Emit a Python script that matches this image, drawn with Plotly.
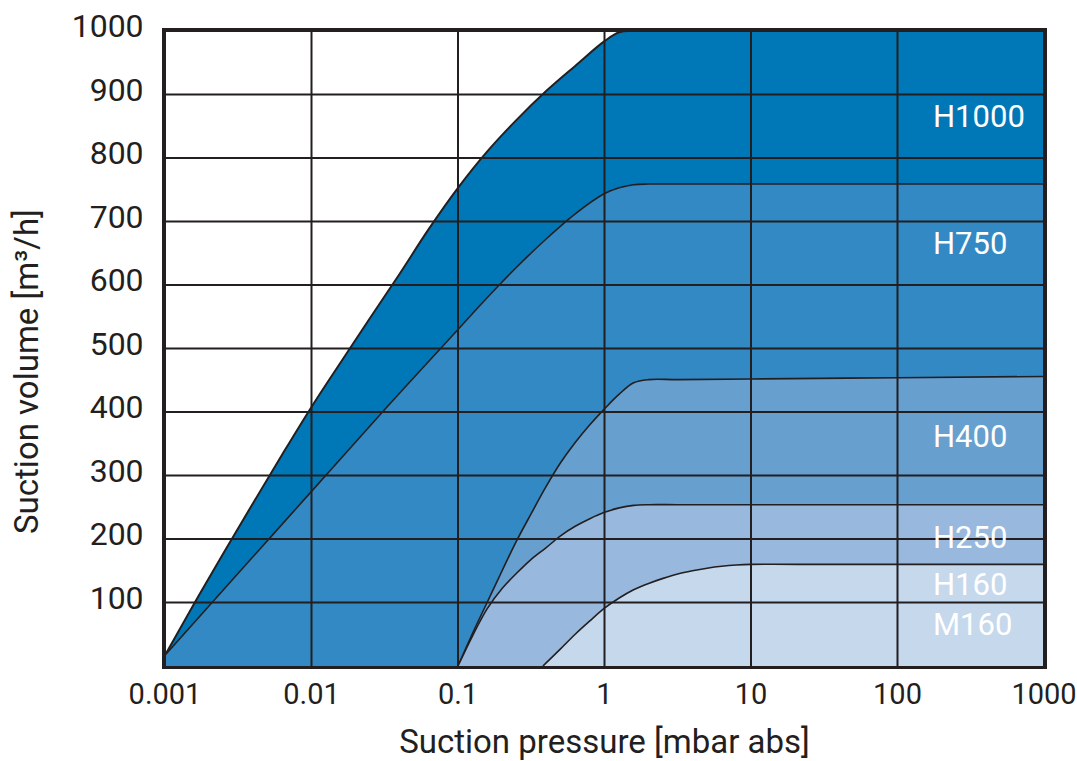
import plotly.graph_objects as go
import math

# ---- data ----
x_ticks = [0.001, 0.01, 0.1, 1, 10, 100, 1000]
x_tick_text = ["0.001", "0.01", "0.1", "1", "10", "100", "1000"]
y_ticks = [100, 200, 300, 400, 500, 600, 700, 800, 900, 1000]

# pressure [mbar abs] / suction volume [m3/h]
h1000_x = [0.001, 0.00158, 0.00251, 0.00398, 0.00631, 0.01, 0.0158, 0.0251, 0.0398, 0.0631,
           0.1, 0.158, 0.251, 0.398, 0.631, 1.0, 1.26, 1.58, 3.16, 10, 100, 1000]
h1000_y = [17, 98, 178, 256, 333, 408, 478, 548, 617, 688,
           753, 810, 860, 905, 945, 984, 998, 1000, 1000, 1000, 1000, 1000]

h750_x = [0.001, 0.00316, 0.01, 0.0316, 0.1, 0.158, 0.251, 0.398, 0.631, 1.0, 1.26, 1.58, 2.0,
          3.16, 10, 100, 1000]
h750_y = [17, 146, 275, 404, 530, 580, 628, 672, 712, 744, 753, 758, 759,
          759, 759, 759, 759]

h400_x = [0.1, 0.126, 0.158, 0.2, 0.251, 0.316, 0.398, 0.501, 0.631, 0.794, 1.0, 1.26, 1.58, 2.0,
          3.16, 10, 100, 1000]
h400_y = [0, 52, 100, 150, 197, 240, 282, 320, 352, 380, 405, 428, 446, 451,
          451, 452, 454, 456]

h250_x = [0.1, 0.126, 0.158, 0.2, 0.251, 0.316, 0.398, 0.501, 0.631, 0.794, 1.0, 1.26, 1.58, 2.0,
          3.16, 10, 100, 1000]
h250_y = [0, 48, 90, 122, 146, 168, 186, 205, 220, 232, 242, 249, 253, 254,
          254, 254, 254, 254]

h160_x = [0.38, 0.501, 0.631, 0.794, 1.0, 1.26, 1.58, 2.0, 2.51, 3.16, 3.98, 5.01, 6.31, 7.94,
          10, 31.6, 100, 1000]
h160_y = [0, 27, 50, 71, 91, 107, 120, 130, 138, 145, 150, 154, 157, 159,
          160, 160, 160, 160]

series_names = ["H1000", "H750", "H400", "H250", "H160"]
series_colors = ["#0078b8", "#3389c4", "#679fcf", "#98b8dd", "#c6d8ec"]

label_texts = ["H1000", "H750", "H400", "H250", "H160", "M160"]
label_y = [865, 665, 362, 203, 128, 66]
label_x = 170  # mbar

LINE = "#231f20"
FONT = "Roboto"

fig = go.Figure()
for name, xs, ys, col, lw in zip(
    series_names,
    [h1000_x, h750_x, h400_x, h250_x, h160_x],
    [h1000_y, h750_y, h400_y, h250_y, h160_y],
    series_colors,
    [2, 1.6, 1.6, 1.6, 1.6],
):
    fig.add_trace(go.Scatter(
        x=xs, y=ys, name=name, mode="lines",
        line=dict(color=LINE, width=lw, shape="spline", smoothing=1.0),
        fill="tozeroy", fillcolor=col, showlegend=False, hoverinfo="skip",
    ))

shapes = []
for v in y_ticks:
    shapes.append(dict(type="line", xref="paper", yref="y", x0=0, x1=1, y0=v, y1=v,
                       line=dict(color=LINE, width=2), layer="above"))
for v in x_ticks:
    shapes.append(dict(type="line", xref="x", yref="paper", x0=v, x1=v, y0=0, y1=1,
                       line=dict(color=LINE, width=2), layer="above"))

annotations = []
for t, yv in zip(label_texts, label_y):
    annotations.append(dict(x=math.log10(label_x), y=yv, xref="x", yref="y", text=t,
                            showarrow=False, xanchor="left", yanchor="middle",
                            font=dict(family=FONT, size=31, color="white")))

# y-axis title (sits a little below the plot centre in the reference)
annotations.append(dict(x=0, y=0.463, xref="paper", yref="paper", xshift=-138,
                        text="Suction volume [m³/h]", textangle=-90, showarrow=False,
                        xanchor="center", yanchor="middle",
                        font=dict(family=FONT, size=33, color=LINE)))

fig.update_layout(
    width=1077, height=761,
    margin=dict(l=165, r=33, t=31, b=95),
    paper_bgcolor="white", plot_bgcolor="white",
    shapes=shapes, annotations=annotations,
    xaxis=dict(
        type="log", range=[-3, 3], tickvals=x_ticks, ticktext=x_tick_text,
        showgrid=False, zeroline=False, automargin=False,
        showline=True, mirror=True, linecolor=LINE, linewidth=3,
        ticks="",
        ticklabeloverflow="allow",
        tickfont=dict(family=FONT, size=29, color=LINE),
        title=dict(text="Suction pressure [mbar abs]", standoff=23,
                   font=dict(family=FONT, size=33, color=LINE)),
    ),
    yaxis=dict(
        range=[0, 1000], tickvals=y_ticks,
        showgrid=False, zeroline=False, automargin=False,
        showline=True, mirror=True, linecolor=LINE, linewidth=3,
        ticks="outside", ticklen=12, tickcolor="rgba(0,0,0,0)",
        ticklabelshift=-5, ticklabeloverflow="allow",
        tickfont=dict(family=FONT, size=32, color=LINE),
    ),
)

# remove the default 8px page margin so the figure fills the window exactly
fig.write_html(
    "out.html",
    config={"displayModeBar": False},
    post_script="document.body.style.margin='0px';document.body.style.overflow='hidden';",
)
